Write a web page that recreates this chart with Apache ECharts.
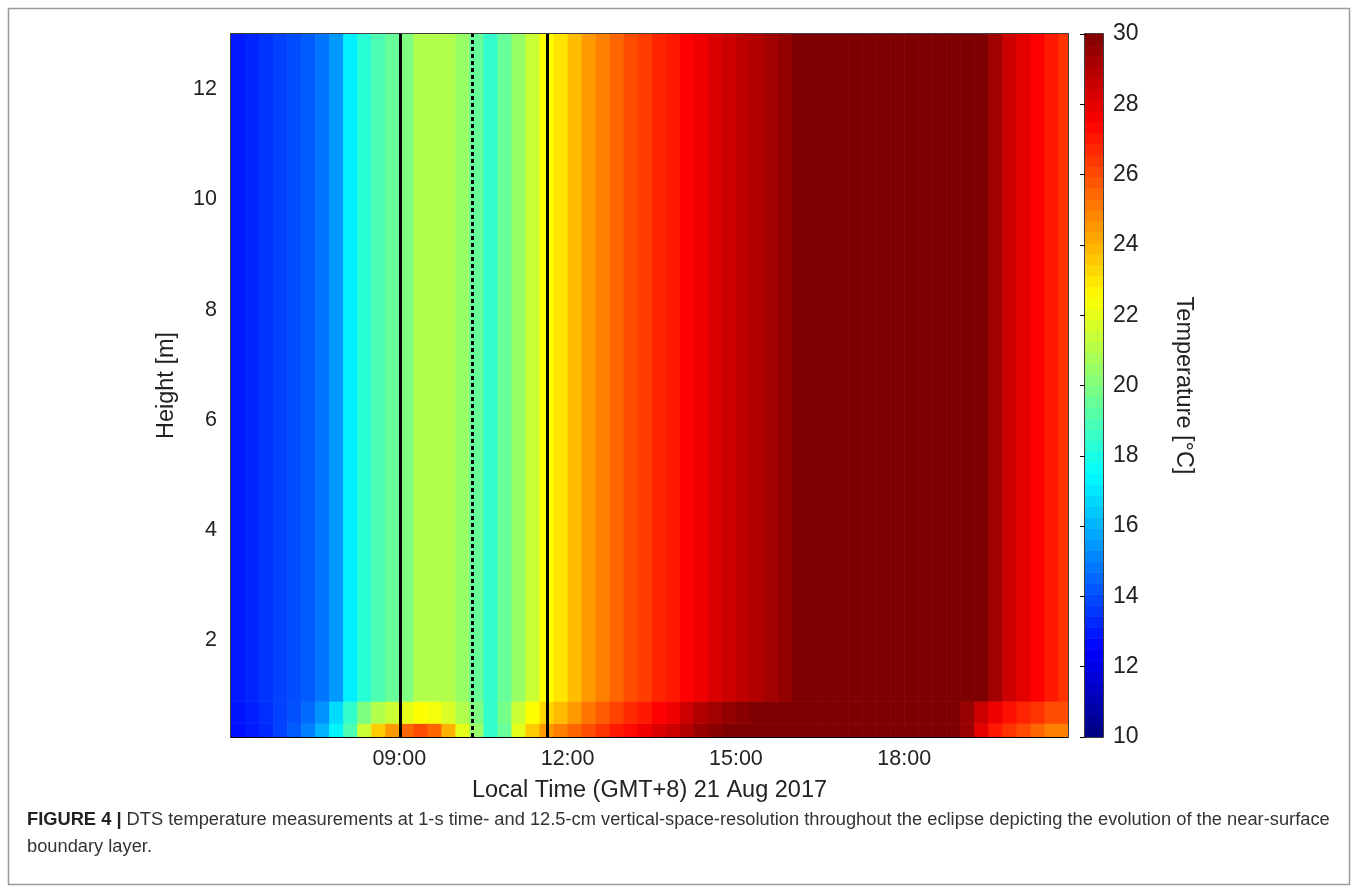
<!DOCTYPE html>
<html>
<head>
<meta charset="utf-8">
<script src="https://cdn.jsdelivr.net/npm/echarts@6/dist/echarts.min.js"></script>
<style>html,body{margin:0;padding:0;background:#fff;} #main{width:1358px;height:893px;}</style>
</head>
<body>
<div id="main"></div>
<script type="text/javascript">
	// time columns, hours (15 min steps from 06:00), last edge at ~20:55
	var timeStart = 6.0, timeStep = 0.25, timeEnd = 20.92;
	// height layers [m]
	var layerEdges = [0.25, 0.5, 0.9, 13.0];
	// temperature [°C] per 15-min column, 06:00 .. 20:45
	var tempSurface = [12.8,13.0,13.3,13.8,14.3,15.0,16.0,17.3,19.0,21.5,23.5,24.5,25.5,26.0,25.5,24.0,22.0,20.5,18.5,19.5,22.0,23.5,24.5,25.0,25.5,26.0,26.5,27.0,27.3,27.8,28.2,28.5,29.0,29.5,29.8,30,30,30,30,30,30,30,30,30,30,30,30,30,30,30,30,30,29.5,28.0,27.0,26.5,26.0,25.5,25.0,25.0];
	var tempLow = [12.9,13.1,13.4,13.8,14.1,14.6,15.4,16.8,18.5,20.0,21.0,21.5,22.0,22.5,22.3,21.8,21.0,20.0,18.5,19.8,21.5,22.5,23.3,23.8,24.5,25.2,25.7,26.2,26.7,27.0,27.5,27.8,28.5,29.0,29.3,29.6,29.8,30,30,30,30,30,30,30,30,30,30,30,30,30,30,30,29.5,28.5,27.8,27.2,26.8,26.5,26.0,26.0];
	var tempUpper = [13.0,13.2,13.5,13.8,14.0,14.3,14.8,15.5,17.2,18.3,19.0,19.5,20.0,21.0,21.0,21.0,20.5,19.5,18.5,19.5,20.5,21.5,22.5,23.0,23.8,24.5,25.0,25.5,26.0,26.3,26.8,27.0,27.5,27.8,28.2,28.5,28.8,29.0,29.3,29.6,30,30,30,30,30,30,30,30,30,30,30,30,30,30,29.3,28.5,28.0,27.5,27.0,26.5];
	// eclipse markers: first contact, totality, last contact (hours)
	var eventTimes = [9.02, 10.30, 11.63];
	var eventDashed = [false, true, false];
	var xTicks = [9, 12, 15, 18];
	var yTicks = [2, 4, 6, 8, 10, 12];

	var jet = ['#00007f','#0000ff','#007fff','#00ffff','#7fff7f','#ffff00','#ff7f00','#ff0000','#7f0000'];

	var cells = [];
	var layers = [tempSurface, tempLow, tempUpper];
	for (var i = 0; i < tempUpper.length; i++) {
		var t0 = timeStart + i * timeStep;
		var t1 = (i == tempUpper.length - 1) ? timeEnd : t0 + timeStep;
		for (var k = 0; k < layers.length; k++) {
			cells.push([t0, t1, layerEdges[k], layerEdges[k + 1], layers[k][i]]);
		}
	}
	// colorbar: 64 discrete levels like the matlab jet map
	var barCells = [];
	for (var j = 0; j < 64; j++) {
		var lo = 10 + j * 20 / 64, hi = 10 + (j + 1) * 20 / 64;
		barCells.push([0, 1, lo, hi, (lo + hi) / 2]);
	}

	function rectItem(params, api) {
		var p0 = api.coord([api.value(0), api.value(3)]);
		var p1 = api.coord([api.value(1), api.value(2)]);
		return {
			type: 'rect',
			shape: {x: p0[0], y: p0[1], width: p1[0] - p0[0] + 0.6, height: p1[1] - p0[1] + 0.6},
			style: {fill: api.visual('color')}
		};
	}

	function fmtTime(v) {
		var h = Math.floor(v);
		return (h < 10 ? '0' : '') + h + ':00';
	}

	var lines = [];
	for (var m = 0; m < eventTimes.length; m++) {
		lines.push({xAxis: eventTimes[m], lineStyle: {color: '#000', width: 3, type: eventDashed[m] ? [4, 3] : 'solid'}});
	}

	var font = 'Liberation Sans, Arial, sans-serif';
	var chart = echarts.init(document.getElementById('main'));
	chart.setOption({
		animation: false,
		graphic: [
			{type: 'rect', shape: {x: 8.5, y: 8.5, width: 1341, height: 876}, style: {fill: 'none', stroke: '#9a9a9a', lineWidth: 1.5}, z: -1},
			{type: 'text', left: 27, top: 806, style: {
				text: '{b|FIGURE 4 |} DTS temperature measurements at 1-s time- and 12.5-cm vertical-space-resolution throughout the eclipse depicting the evolution of the near-surface\nboundary layer.',
				rich: {b: {fontWeight: 'bold', fontSize: 18.3, fontFamily: font, fill: '#222'}},
				fontSize: 18.3, fontFamily: font, fill: '#333', lineHeight: 27
			}}
		],
		grid: [
			{left: 231, right: 290, top: 34, bottom: 156, show: true, borderColor: '#000', borderWidth: 1.5, backgroundColor: 'transparent'},
			{left: 1085, right: 255, top: 34, bottom: 156, show: true, borderColor: '#000', borderWidth: 1.5}
		],
		visualMap: {type: 'continuous', show: false, min: 10, max: 30, dimension: 4, seriesIndex: [0, 1], inRange: {color: jet}},
		xAxis: [
			{type: 'value', gridIndex: 0, min: timeStart, max: timeEnd,
				name: 'Local Time (GMT+8) 21 Aug 2017', nameLocation: 'middle', nameGap: 42,
				nameTextStyle: {fontSize: 23.5, color: '#222', fontFamily: font},
				axisLine: {lineStyle: {color: '#000'}},
				axisTick: {inside: true, length: 7, customValues: xTicks, lineStyle: {color: '#000'}},
				axisLabel: {customValues: xTicks, formatter: fmtTime, margin: 11, fontSize: 21.5, color: '#222', fontFamily: font},
				splitLine: {show: false}},
			{type: 'value', gridIndex: 1, min: 0, max: 1, show: false}
		],
		yAxis: [
			{type: 'value', gridIndex: 0, min: 0.25, max: 13,
				name: 'Height [m]', nameLocation: 'middle', nameGap: 52,
				nameTextStyle: {fontSize: 23.5, color: '#222', fontFamily: font},
				axisLine: {show: true, lineStyle: {color: '#000'}},
				axisTick: {show: true, inside: true, length: 7, customValues: yTicks, lineStyle: {color: '#000'}},
				axisLabel: {customValues: yTicks, margin: 14, fontSize: 21.5, color: '#222', fontFamily: font},
				splitLine: {show: false}},
			{type: 'value', gridIndex: 1, min: 10, max: 30, interval: 2, position: 'right',
				name: 'Temperature [°C]', nameLocation: 'middle', nameGap: 68, nameRotate: -90,
				nameTextStyle: {fontSize: 23.5, color: '#222', fontFamily: font},
				axisLine: {show: true, lineStyle: {color: '#000'}},
				axisTick: {show: true, inside: true, length: 5, lineStyle: {color: '#000'}},
				axisLabel: {margin: 10, fontSize: 23, color: '#222', fontFamily: font},
				splitLine: {show: false}}
		],
		series: [
			{type: 'custom', xAxisIndex: 0, yAxisIndex: 0, renderItem: rectItem, data: cells, clip: true, silent: true,
				encode: {x: [0, 1], y: [2, 3]},
				markLine: {symbol: 'none', silent: true, label: {show: false}, data: lines}},
			{type: 'custom', xAxisIndex: 1, yAxisIndex: 1, renderItem: rectItem, data: barCells, clip: true, silent: true,
				encode: {x: [0, 1], y: [2, 3]}}
		]
	});
</script>
</body>
</html>
